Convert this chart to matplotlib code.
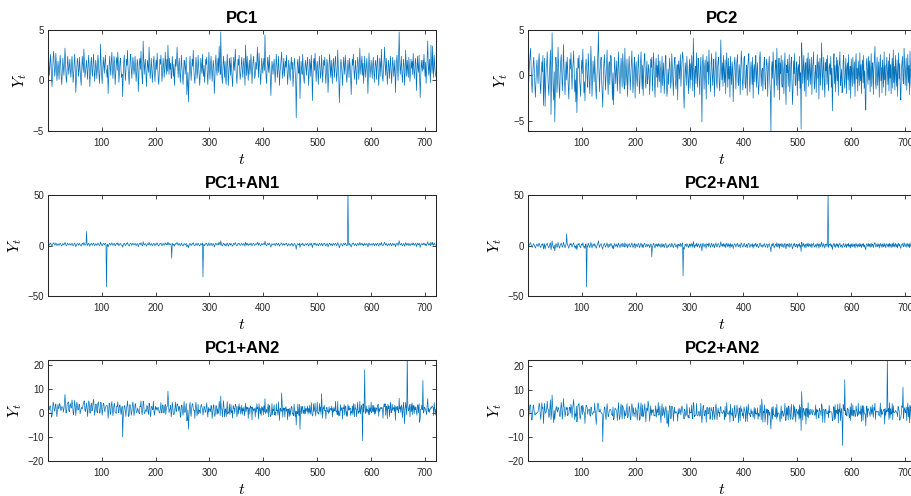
import numpy as np
import matplotlib
matplotlib.use("Agg")
import matplotlib.pyplot as plt

plt.rcParams['font.family'] = ['Liberation Sans', 'DejaVu Sans']
plt.rcParams['mathtext.fontset'] = 'cm'

# principal components, t = 1..720
pc1 = [
    3.2, 2.0, 0.5, 1.3, 2.6, 1.9, 0.2, -0.6, 0.8, 2.3, 2.9, 1.5, 0.4, 1.1, 2.7, 1.6, 0.0, 0.7, 1.9, 1.2,
    0.1, 1.4, 2.5, 1.7, 0.3, -0.4, 1.0, 2.2, 1.3, 0.5, 1.8, 3.2, 1.9, 0.2, -0.2, 1.1, 2.4, 1.5, 0.6, 1.3,
    2.1, 1.0, 0.3, 1.5, 2.4, 1.4, -0.2, 0.5, 1.7, 2.6, 1.2, -1.2, -0.1, 1.3, 2.2, 1.8, 0.4, 1.0, 2.3, 1.1,
    0.2, -0.5, 0.9, 2.4, 1.6, 0.8, 3.1, 2.0, 0.3, 0.9, 1.5, 2.0, 0.9, 0.1, 1.6, 2.5, 1.2, -0.6, 0.6, 1.8,
    2.3, 1.0, 0.4, 1.7, 2.6, 1.3, -0.1, 0.8, 2.0, 1.4, 0.2, 1.1, 2.5, 1.9, 0.6, -0.3, 1.2, 3.6, 1.7, 0.5,
    -0.3, 1.0, 2.3, 1.6, 0.7, 1.9, 2.5, 1.1, 1.0, 0.3, 1.5, -1.3, 0.1, 1.6, 2.4, 1.2, 0.5, 2.0, 2.8, 1.0,
    0.2, 1.3, 2.4, 1.7, -0.4, 0.5, 1.8, 2.3, 1.0, 2.8, 1.6, -0.2, 0.7, 1.9, 2.2, 0.9, 0.3, 0.6, -1.6, 0.4,
    1.8, 2.5, 1.2, 0.0, 0.9, 2.1, 1.5, 3.0, 1.3, 0.4, -0.4, 0.8, 2.2, 2.6, 1.1, 0.2, 1.4, 2.3, 1.6, 0.6,
    1.2, 2.4, 1.0, -0.1, 0.8, 2.1, 1.7, -1.1, 0.3, 1.8, 2.2, 1.1, 2.9, 1.4, 0.3, -0.3, 3.9, 2.2, 0.6, 1.5,
    2.1, 1.0, -0.6, 0.7, 2.0, 1.4, 0.8, 3.3, 1.6, 0.2, 0.9, 2.2, 1.3, -0.2, 0.6, 1.9, 2.4, 0.9, -0.1, 1.2,
    2.0, 1.1, 2.7, 1.5, 0.1, -0.4, 0.9, 2.1, 1.6, 2.5, 1.0, -0.1, 0.8, 2.2, 1.5, 0.3, 1.1, 2.8, 1.6, 0.6,
    2.1, 0.9, 3.5, 1.8, 0.6, 2.2, 1.1, 1.7, 0.2, 0.5, 2.4, 1.3, 0.4, 1.6, -0.5, 0.8, 2.1, 1.4, 2.0, 3.3,
    1.5, 0.3, 1.6, 2.2, 0.7, -0.2, 1.2, 2.5, 1.3, 0.4, -0.4, 0.9, 2.0, 1.7, 0.6, 1.4, 2.3, -1.4, -0.3, 0.8,
    -2.1, -0.4, 1.5, 2.4, 1.2, 0.0, 1.1, 2.1, 1.4, 3.0, 1.2, 0.2, -0.3, 1.0, 2.3, 1.6, 0.2, 0.9, 2.5, 1.3,
    0.4, -0.5, 1.0, 2.2, 1.5, 0.7, 2.6, 1.0, 0.4, 1.5, -0.2, 0.8, 2.1, 1.6, 2.3, 0.6, -0.4, 1.2, 2.8, 1.1,
    0.1, 1.5, 2.4, 1.3, -0.1, 0.9, 2.0, 1.4, -1.3, 0.0, 1.8, 2.5, 1.2, 0.5, 1.6, 2.2, 0.8, 3.4, 1.7, 0.6,
    4.8, 1.9, 0.4, -0.3, 1.3, 2.4, 1.5, 0.3, 1.9, 0.2, -0.4, 1.4, 2.6, 1.3, -0.5, 0.7, 2.2, 1.6, 0.5, 2.3,
    1.2, 0.2, -0.6, 1.1, 2.3, 1.0, 1.8, 3.1, 1.4, 0.4, -0.3, 0.9, 2.1, 1.5, 2.5, 1.0, 0.1, 0.6, 1.6, 2.3,
    0.9, 0.3, 1.7, 2.2, 0.8, -0.5, 3.5, 1.9, 0.5, 2.4, 1.1, 0.0, 1.3, 2.0, 0.6, 1.2, 2.6, 1.4, -0.3, 1.0,
    2.0, 2.4, 1.1, 0.2, 0.5, 1.8, 1.1, 1.9, 3.3, 1.5, 0.3, 2.7, 1.6, 0.6, -0.4, 0.8, 2.2, 1.5, 0.7, 1.6,
    2.2, 1.0, 4.5, 1.8, 0.4, -0.3, 1.2, 2.3, 1.6, 0.8, 2.5, 1.3, 0.2, -1.5, 0.4, 1.9, 1.4, 0.6, 1.5, 2.1,
    1.0, -0.2, 1.3, 2.6, 1.6, 0.3, 1.0, 2.4, 1.2, -0.5, 0.8, 1.5, 2.1, 2.8, 0.9, 0.2, 1.4, 2.2, 0.4, 1.1,
    1.9, 1.3, 2.5, 1.0, -0.4, 0.6, 2.0, 1.4, 0.5, 0.0, 1.6, 2.3, 1.1, 1.8, -0.6, 0.4, 1.7, 2.2, 0.9, 0.1,
    -3.7, -0.2, 1.6, 2.1, 1.0, 0.7, 2.4, -1.8, 0.3, 1.9, 1.1, 0.6, 2.6, 1.5, 0.2, -0.3, 1.1, 2.0, 1.4, 0.5,
    1.6, 2.3, 1.1, -0.5, 0.7, 2.1, 1.6, 0.4, 2.5, 1.0, -2.0, 0.3, 1.8, 2.2, 1.0, 2.7, 1.2, -0.1, 1.3, 1.9,
    0.9, -0.4, 1.3, 2.4, 1.2, 0.2, 0.7, 2.5, 1.4, -0.2, 1.1, 2.0, 1.5, 2.3, 0.5, -0.3, 0.8, 2.1, 1.6, -1.2,
    0.4, 1.7, 2.6, 1.2, 0.3, 2.0, 0.8, -0.3, 1.5, 2.2, 1.1, 0.3, 1.9, 2.4, 1.0, -0.1, 0.9, 3.0, 1.4, 0.2,
    -2.2, -0.3, 1.4, 2.1, 1.6, 0.5, -0.5, 1.2, 2.3, 1.3, 0.6, 2.5, 1.7, 0.4, -0.2, 1.0, 2.0, 1.3, 0.3, 2.2,
    1.4, 0.3, -1.4, 0.6, 2.1, 1.5, 2.6, 1.2, 0.1, 1.0, 2.0, 0.7, -0.4, 1.2, 2.3, 1.7, 0.1, 1.1, 3.2, 1.5,
    0.6, 1.8, 2.4, 0.5, 1.7, -0.3, 0.9, 2.4, 1.1, 0.3, 1.4, 2.2, 0.8, -1.3, 0.6, 2.7, 1.5, 0.3, 1.2, 2.0,
    1.1, 0.2, 1.5, 2.3, 0.9, -0.2, 1.3, 2.0, 1.4, 0.1, 1.8, 2.5, 0.9, -0.5, 0.7, 2.2, 1.6, 0.4, 3.1, 1.5,
    0.3, -0.1, 1.2, 2.1, 3.3, 1.4, 0.5, 2.2, 1.3, -0.4, 0.6, 2.0, 1.5, 0.2, 1.4, 2.4, 1.0, -0.3, 1.1, 2.3,
    1.5, 0.4, 1.2, 2.0, -1.2, 0.3, 1.9, 2.5, 1.2, 0.0, 2.2, 4.8, 2.0, 0.6, 1.3, 2.4, 0.8, -0.2, 1.0, 2.1,
    1.5, -0.5, 0.8, 3.0, 1.6, 0.4, 2.0, 1.1, 0.3, 2.3, 1.4, -0.1, 0.7, 2.1, 1.2, 1.9, 0.6, 2.7, 1.3, 0.2,
    1.0, 2.2, 1.7, -1.0, 0.6, 2.4, 1.3, 0.8, 2.5, 0.3, -1.7, 0.4, 2.0, 1.5, 0.9, 2.0, 1.1, 2.6, 1.5, 0.4,
    1.8, -0.3, 0.9, 2.3, 3.9, 1.3, 0.5, 2.1, 0.9, -0.2, 3.5, 1.6, 0.7, 3.4, 1.2, 0.3, 2.5, 1.5, 0.8, 0.4,
]

pc2 = [
    -1.5, -0.3, 1.2, 2.1, 3.0, 0.9, -0.8, -1.9, -0.4, 1.3, 2.0, 0.6, -1.1, -2.4, -0.7, 0.8, 1.7, 0.2, -0.9, 1.5,
    2.4, 0.7, -1.2, -2.0, 0.3, 1.5, 0.4, 2.2, -3.3, -1.0, 1.9, -3.4, -1.2, 0.9, 1.3, 2.6, 0.2, -1.3, -2.2, 0.1,
    1.6, 2.8, -4.3, -0.8, 4.7, 1.1, -1.6, -2.7, 0.4, -5.1, -1.4, 2.0, 1.0, -1.9, -0.6, 3.1, 1.2, -1.4, -2.5, 0.2,
    1.6, 2.3, 0.4, -1.7, -0.2, 3.4, 1.3, -0.6, -2.1, 0.1, 1.5, -0.5, 2.0, 0.6, -1.2, -2.6, -0.3, 1.8, 0.7, 2.5,
    0.4, -1.5, 0.6, 1.4, 2.7, 0.3, -1.8, -0.5, -2.9, 0.8, -4.1, -0.9, 1.9, 0.8, 2.2, -0.4, -1.2, -2.3, 0.5, 1.7,
    0.2, 2.9, 0.5, -1.9, -0.7, -2.8, 0.7, 1.8, 1.0, -0.3, -1.3, 2.4, 1.1, -0.8, -2.0, 0.6, 3.2, 0.9, -2.3, -0.6,
    1.6, 0.4, -0.7, 2.1, 0.2, -1.5, -2.6, -0.4, 1.2, 2.5, 4.8, 0.3, -1.8, 0.5, 1.4, 2.0, -0.6, -2.2, -3.5, -0.2,
    1.3, 2.3, 0.6, -1.6, -0.3, 1.1, 2.8, -0.2, -2.1, 0.9, 1.5, -1.0, 0.4, 2.2, 1.7, -0.6, -2.7, 0.3, -3.2, -0.5,
    2.0, 0.8, -0.9, 0.5, 1.6, -1.7, -0.4, 2.6, 1.1, -0.5, -2.0, 0.7, 1.9, 0.4, -1.3, 2.4, 1.3, -0.8, -1.5, 3.0,
    0.6, -1.1, 0.3, 1.8, -2.3, -0.4, 0.9, 2.1, 0.5, -1.6, -0.1, 1.4, 2.7, 0.6, -1.9, -0.7, 1.2, 2.0, -2.5, 0.8,
    1.5, -0.3, -1.2, 0.4, 2.3, 0.9, -2.0, -0.8, 1.3, 2.6, 0.2, -1.5, 1.1, -2.2, 0.7, 1.9, 2.4, -0.6, -1.4, 0.5,
    1.6, -0.9, -0.3, 1.2, 0.6, -2.1, -0.5, 1.8, 0.9, 2.0, -1.7, -0.2, 2.5, 1.3, -1.0, -2.4, 0.8, 1.9, -0.2, 1.1,
    -1.3, 2.3, 0.1, -0.7, 1.6, 0.6, -1.9, 0.3, 2.1, -1.1, 0.3, 1.4, -2.0, -0.6, 1.7, 2.2, -0.4, -2.3, -1.6, 0.7,
    -1.0, 0.4, 1.9, 0.8, -1.4, -0.6, 2.4, 1.1, -0.6, -2.2, 0.5, 1.7, 2.0, -0.9, -1.5, 0.3, 1.2, -2.7, 0.9, 1.6,
    -0.4, 0.7, 2.3, -1.2, 0.2, 1.5, 2.6, 2.0, -1.9, -3.6, -0.8, 1.4, 0.6, -1.1, 2.1, 0.9, -0.3, -2.0, 0.4, 1.8,
    -1.4, 1.3, -0.5, 2.2, 0.8, -1.7, 4.1, 1.6, -2.4, 0.5, 1.0, -0.9, 2.5, 0.3, -1.3, 1.9, 1.2, -0.6, -2.1, 0.7,
    2.0, -0.8, -5.1, 1.4, 2.3, 0.6, -1.5, 0.9, 1.7, -0.4, -2.6, 2.1, 0.4, 1.5, -1.0, 2.8, 0.8, -0.2, -1.8, 1.3,
    2.4, 0.2, -1.1, 0.7, 1.8, -2.3, -0.5, 1.2, 2.6, -0.6, -1.4, 0.9, 1.6, 2.0, -0.9, -1.7, 0.3, 3.9, 1.1, -0.5,
    1.4, -1.2, 2.2, 0.4, -0.8, 1.7, -2.0, 0.6, 2.5, 0.8, -1.3, 1.9, -0.4, 1.0, -2.4, 2.1, 0.2, -1.0, 1.5, 0.7,
    -2.9, -0.3, 1.3, 2.0, 0.5, -1.5, 0.9, 1.6, 2.3, -0.7, -1.1, 1.2, 0.4, -2.1, 0.8, 2.7, 1.4, -0.6, -1.6, 0.3,
    1.9, 2.1, -0.9, -1.4, 0.6, 1.1, -2.2, 0.9, 1.8, 2.4, -0.5, -1.8, 0.2, 1.5, 0.7, -1.0, 2.0, -2.5, 0.4, 1.2,
    -0.7, 1.6, 2.2, -1.3, 0.3, 1.4, -0.6, -2.1, -1.0, 1.9, 2.6, 0.5, -1.2, 0.5, 0.8, -1.7, 0.1, 1.3, 2.0, -0.9,
    -1.5, 0.7, 1.8, 1.1, -2.3, 0.4, 1.2, 2.1, -0.8, -1.9, -6.1, 0.6, 1.5, -0.3, 2.6, 0.9, -2.4, -0.5, 1.0, 1.7,
    -1.1, 3.0, 0.4, -1.6, 0.8, 1.9, -2.7, 1.4, 0.2, 2.2, -0.9, -1.3, 1.7, 0.6, -2.0, 0.9, 2.5, -0.7, -3.2, 1.1,
    0.3, 1.8, -1.2, 0.7, 2.3, -1.8, -0.5, 1.3, 2.0, -0.4, -3.2, -1.5, 1.6, 0.2, 2.4, -0.8, -1.1, 0.9, 1.5, -2.2,
    0.6, 1.2, -0.6, 2.1, -1.4, 0.3, -5.9, 3.6, 1.7, -0.9, 1.0, 2.2, -1.7, 0.5, 1.4, -2.3, 0.8, 1.9, -0.5, 2.5,
    -1.2, 0.6, 1.8, -1.0, 0.2, 2.0, -2.1, 0.9, 1.3, 2.6, -0.7, -1.5, 0.4, 1.1, -1.9, 0.7, 2.3, -0.3, 1.5, -2.6,
    0.8, 1.9, -1.1, 0.3, 3.6, 1.2, -1.6, 0.7, 2.0, -0.8, -2.4, 1.4, 0.5, 1.8, -1.0, 2.2, -0.4, -1.7, 0.9, 1.3,
    0.1, 2.1, -1.3, 0.8, -3.9, -0.6, 1.5, 2.4, -0.9, 1.1, -1.8, 0.4, 2.0, -0.6, 1.7, -2.2, 0.9, 1.3, 2.6, -1.1,
    -0.3, 0.7, -1.9, -1.5, 1.6, 2.2, -0.7, -1.4, 0.5, 1.9, -2.0, 0.8, 1.4, -0.5, 2.3, -1.6, 0.4, 1.0, -2.5, 1.8,
    0.2, -1.2, 2.0, 0.6, -0.9, 1.5, -2.3, 1.1, 2.4, -0.4, 0.8, -1.7, 1.6, 0.3, -1.1, 2.5, -0.6, 1.2, -2.0, 0.9,
    1.7, -0.8, 2.2, -1.4, 0.5, -2.6, -3.8, 1.3, 1.9, 0.4, -1.0, 2.1, -0.5, 1.6, -1.8, 0.7, 2.4, -1.2, 0.9, 1.4,
    -2.1, 0.6, 1.8, 3.2, -0.7, -1.5, 0.8, 2.0, -1.1, 0.3, 1.5, -2.4, 1.0, 2.3, -0.6, 0.9, -1.9, 1.7, 0.4, -1.3,
    2.6, -0.5, 1.1, -2.2, 0.8, 2.0, 0.5, -1.0, 1.6, -1.7, 2.4, -0.3, 1.2, -2.0, 0.7, 1.9, -1.4, 2.8, -0.8, 1.0,
    -1.6, 2.2, 0.3, -1.2, 1.7, -2.3, 0.9, 2.5, -0.4, 1.3, -1.8, -2.7, 0.6, 1.4, 2.1, -0.5, -0.9, 3.0, 1.5, -1.1,
    0.7, 1.9, -1.6, 0.4, 2.3, -0.8, 1.1, -2.1, 2.7, 0.2, -1.3, 1.6, 0.5, -2.4, 1.8, -0.6, 2.9, 0.8, -1.5, 1.2,
]

# anomaly type 1: isolated spikes (time index, size)
an1_t = [72, 109, 230, 288, 557]
an1_size = [12, -42, -13, -32, 55]

# anomaly type 2: noisy disturbance with spikes
an2 = [
    -1.2, -0.4, 0.9, 1.5, 0.3, -1.0, -2.0, -0.6, 1.1, 2.2, 0.8, -0.7, 0.4, 1.8, 1.0, -0.9, -1.6, 0.2, 1.7, 0.6,
    1.9, 2.6, 0.8, -0.6, 0.7, 3.0, 1.5, 0.2, -1.0, 1.1, 2.3, 4.5, 1.2, -0.3, 0.9, 2.5, 1.6, 3.1, 0.4, -0.8,
    1.0, 2.9, 1.7, 0.6, 3.0, 2.2, 0.3, -1.2, 0.8, 2.6, 1.5, 0.1, 1.9, 3.2, 1.1, -0.6, 0.9, 2.4, 1.3, -1.5,
    0.5, 2.3, 1.4, -0.8, 1.0, 2.8, 1.6, 3.0, 0.7, -0.3, 1.2, 2.1, 0.4, -1.6, 0.9, 2.5, 2.9, 0.6, -0.7, 1.3,
    1.8, -0.2, 1.1, 2.4, 3.1, 0.9, -0.9, 0.3, 1.7, 2.2, 0.5, -1.1, 1.5, 2.7, 1.9, 0.2, -1.3, 0.8, 2.6, 1.4,
    -0.7, 0.5, 1.8, 2.3, 1.0, -1.5, -0.2, 1.6, 2.1, 2.8, 0.9, -1.0, 0.4, 2.5, 1.3, -1.8, -0.6, 1.5, 2.0, 0.2,
    -1.4, 0.3, 1.1, 2.2, 0.8, -0.5, -2.0, 0.6, 1.7, 1.9, -1.2, 0.3, 2.4, 1.4, -0.8, -1.6, 0.5, 2.1, -8.4, -2.3,
    -1.5, 0.4, 1.8, 0.9, -2.4, -0.3, 1.3, 2.0, 0.7, -1.9, -0.6, 2.6, 1.1, -0.6, -2.1, 0.2, 1.6, 2.3, 0.5, -1.7,
    -1.0, 1.4, 2.7, 0.8, -0.8, -1.3, 0.3, 1.9, -0.2, -2.2, 0.6, 1.5, 2.1, -0.4, -1.1, 0.9, 1.0, 2.4, -0.7, -1.8,
    -1.6, 0.4, 1.2, 2.3, 0.5, -0.9, -1.4, 0.8, 1.7, -0.6, -2.5, 0.3, 1.4, 2.0, 0.7, 3.0, -1.2, -1.9, 0.9, 1.6,
    -0.5, 1.1, -1.7, 0.6, 2.2, 1.5, -0.9, -2.0, 0.4, 1.8, -1.0, 0.2, 2.5, 0.9, -1.5, -0.3, 1.7, 0.7, -2.2, 1.3,
    0.6, 1.9, 5.5, 2.6, -0.5, -1.2, 0.8, 1.4, -1.8, -0.5, 2.0, 1.6, -1.0, -2.3, 0.3, 1.2, 2.4, -0.7, -1.4, 0.5,
    1.8, 2.3, -0.9, 0.4, 1.5, -1.6, -2.1, 0.7, 1.9, 0.2, -0.6, 1.1, 2.7, -1.3, -0.4, 0.8, 1.6, -1.9, -2.6, 0.5,
    -4.7, -1.1, 1.3, 2.0, -0.8, -1.5, 0.6, 1.7, 2.4, -1.1, -0.3, 0.9, -2.0, 1.5, 2.2, 0.2, -1.4, -0.6, 1.0, -1.8,
    0.7, 1.4, -1.2, 0.5, 2.1, 1.6, -0.8, -1.9, 0.3, 1.2, 2.5, -0.5, -1.8, 0.8, 1.9, -0.2, -1.3, 1.1, -2.4, 0.6,
    1.5, -1.0, 0.7, 1.3, -2.2, -0.6, 0.4, 2.0, 1.0, -1.5, -1.9, 0.5, 1.7, -1.1, 0.2, -2.6, -0.4, 1.4, 0.9, -1.7,
    2.2, -0.3, 1.1, -1.4, 0.6, 2.7, 0.8, -2.0, -0.5, 1.5, -1.2, 0.3, 2.1, -1.8, 0.9, -0.7, 1.6, -2.3, 0.4, 1.2,
    -1.0, 0.7, -1.6, 1.9, -0.4, 1.0, -2.1, 0.5, 1.4, 2.2, -1.3, -0.8, 0.6, -1.9, 1.3, 0.2, 2.4, -1.1, -0.6, 0.9,
    -1.5, 1.6, -0.9, 0.3, -2.0, 1.2, 0.5, -1.4, 2.0, -0.7, 1.1, -2.3, 0.8, 0.1, -1.2, 1.7, -0.5, 0.9, -2.6, 1.4,
    -0.3, -1.7, 0.6, 1.5, -2.2, 0.4, -0.8, 1.9, -1.5, 0.7, -2.8, 1.1, 0.2, -1.0, 2.3, -1.9, 0.5, -0.4, 1.6, -2.4,
    0.8, -0.6, 1.4, -2.1, 0.3, 1.8, -1.3, -0.2, 2.1, -2.5, 0.6, 1.0, -1.7, 0.4, -0.9, 2.0, -2.2, 0.8, -0.5, 1.3,
    -1.8, 0.5, -2.4, 1.2, -0.7, 0.9, -1.9, 2.2, -0.3, -2.6, 1.0, 0.4, -1.5, 5.5, 1.8, -2.0, 0.7, -1.1, 1.5, -2.8,
    0.2, 1.3, -1.8, 0.6, -2.5, 0.9, -0.4, -2.9, 1.4, -1.0, -0.5, 0.5, 1.1, -2.2, 0.3, -1.6, 1.9, -0.8, -2.4, 0.7,
    -1.3, 0.8, -2.0, 1.6, -0.6, -1.9, 1.2, -5.0, -0.3, 0.9, -1.4, 2.1, -0.7, -1.8, 1.0, -0.2, 1.7, -2.3, 0.4, 1.3,
    -1.1, 0.6, -1.6, 2.4, -0.5, 1.1, -2.1, 0.3, 1.8, -1.2, 0.7, -0.9, 2.0, -1.7, 0.5, 1.4, -2.5, 0.9, -0.3, 2.6,
    -1.0, 0.4, -1.8, 1.5, -0.6, 2.3, -1.3, 5.5, 0.8, -2.0, 1.1, -0.4, 1.7, -1.5, 0.6, -2.2, 1.3, 0.2, -1.0, 2.0,
    -0.7, 1.0, -2.3, 0.5, 1.6, -0.9, 2.1, -1.4, 0.3, -1.9, 1.2, 0.7, -1.1, 2.4, -0.5, 0.9, -1.6, 1.8, -2.7, 0.6,
    1.4, -0.8, 2.0, -1.3, 0.4, 1.7, -2.1, 0.9, -0.5, 2.2, -1.5, 0.3, 1.1, -1.8, 0.7, -2.4, 1.5, -0.2, 2.5, -1.0,
    0.6, -1.4, 1.9, -0.6, 0.8, -2.2, 1.3, 0.2, -1.7, 2.6, -0.4, 1.0, -1.2, 0.5, 2.2, -1.9, 0.7, -0.8, 1.6, -2.0,
    0.9, 1.4, -0.7, -12.0, 2.1, 0.6, 1.8, 15.5, -1.1, -0.5, 1.5, -1.9, 0.8, 2.3, -1.3, 0.4, -2.2, 1.7, -0.6, 2.5,
    -1.0, 0.3, 1.6, -1.8, 2.2, -0.4, 1.0, -2.3, 0.7, 1.9, -1.2, 0.5, 2.7, -0.9, 1.3, -1.6, 0.2, 2.0, -1.4, 0.8,
    1.5, -2.1, 0.9, 1.7, -0.8, 2.4, -1.5, 0.6, 1.2, -2.0, 3.0, -0.3, 1.4, -1.7, 0.5, 2.1, -1.0, 0.8, 2.6, -1.3,
    0.4, 1.9, -0.6, 1.1, -1.9, 2.3, 0.2, -1.4, 1.6, 0.7, -2.2, 1.3, -0.4, 2.0, -1.1, 0.9, 1.5, -1.8, 0.6, 2.4,
    -0.8, -4.0, 1.0, 1.4, 0.3, -1.2, 23.0, 1.8, 0.5, -0.9, 2.1, -1.5, 0.8, 1.6, -0.7, 2.2, -1.3, 0.4, 1.2, -0.5,
    1.9, -1.0, 0.7, 1.5, -1.6, 0.9, 2.0, -0.8, 1.3, -4.2, -0.3, 1.1, -0.6, 1.8, 0.4, 11.5, -1.2, -2.0, 0.9, 1.6,
    -0.4, 0.8, -1.5, 1.2, 2.0, -0.7, 1.4, -1.9, 0.6, 1.7, -1.1, 0.3, 2.2, -0.9, 1.0, -1.4, 1.8, 0.5, -1.7, 1.1,
]

titles = ['PC1', 'PC2', 'PC1+AN1', 'PC2+AN1', 'PC1+AN2', 'PC2+AN2']
ylims = [(-5, 5), (-6.1, 5), (-50, 50), (-50, 50), (-20, 22), (-20, 22.4)]
yticks = [[-5, 0, 5], [-5, 0, 5], [-50, 0, 50], [-50, 0, 50],
          [-20, -10, 0, 10, 20], [-20, -10, 0, 10, 20]]

pc1 = np.array(pc1)
pc2 = np.array(pc2)
an2 = np.array(an2)
t = np.arange(1, len(pc1) + 1)
an1 = np.zeros(len(t))
an1[np.array(an1_t) - 1] = an1_size

series = [pc1, pc2, pc1 + an1, pc2 + an1, pc1 + an2, pc2 + an2]

fig = plt.figure(figsize=(9.11, 4.96), dpi=100)
lefts = [0.053, 0.580]
bottoms = [0.736, 0.403, 0.0706]
w, h = 0.4254, 0.2036
ylab_x = [[-0.050, -0.047], [-0.063, -0.062], [-0.063, -0.062]]

for i, (y, ttl) in enumerate(zip(series, titles)):
    row, col = divmod(i, 2)
    ax = fig.add_axes([lefts[col], bottoms[row], w, h])
    ax.plot(t, y, color='#0072BD', lw=0.5)
    ax.set_xlim(1, 720)
    ax.set_ylim(*ylims[i])
    ax.set_xticks([100, 200, 300, 400, 500, 600, 700])
    ax.set_yticks(yticks[i])
    ax.tick_params(direction='in', top=True, right=True, length=3, width=0.6,
                   labelsize=7, colors='#262626', pad=3)
    ax.tick_params(axis='x', pad=5)
    for s in ax.spines.values():
        s.set_linewidth(0.75)
        s.set_color('#262626')
    ax.set_title(ttl, fontsize=12, fontweight='bold', pad=5)
    ax.set_ylabel(r'$Y_t$', fontsize=11.5)
    ax.yaxis.set_label_coords(ylab_x[row][col], 0.5)
    ax.set_xlabel(r'$t$', fontsize=11.5)
    ax.xaxis.set_label_coords(0.5, -0.21)

fig.savefig('out.png', dpi=100)
